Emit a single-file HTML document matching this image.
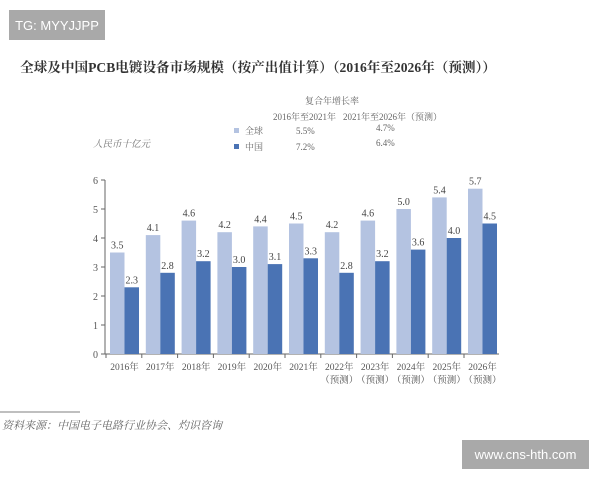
<!DOCTYPE html>
<html><head><meta charset="utf-8">
<style>
body{margin:0;width:600px;height:480px;background:#fff;overflow:hidden;font-family:"Liberation Serif","Noto Serif CJK SC",serif;}
.wm{position:absolute;background:#a9a9a9;color:#fff;font-family:"Liberation Sans",sans-serif;font-size:13px;display:flex;align-items:center;justify-content:center}
</style></head><body>
<div class="wm" style="left:9px;top:10px;width:96px;height:30px">TG: MYYJJPP</div>
<div class="wm" style="left:462px;top:440px;width:127px;height:29px">www.cns-hth.com</div>
<svg width="600" height="480" style="position:absolute;left:0;top:0">
<text x="258" y="72" text-anchor="middle" font-size="13.6" font-weight="bold" fill="#333">全球及中国PCB电镀设备市场规模（按产出值计算）（2016年至2026年（预测））</text>
<g font-size="9" fill="#666">
<text x="332" y="104" text-anchor="middle">复合年增长率</text>
<text x="273" y="120">2016年至2021年</text>
<text x="343" y="120">2021年至2026年（预测）</text>
<rect x="234" y="128" width="5" height="5" fill="#b4c3e1"/><text x="245" y="134">全球</text>
<text x="296" y="134">5.5%</text><text x="376" y="131">4.7%</text>
<rect x="234" y="144" width="5" height="5" fill="#4a73b4"/><text x="245" y="150">中国</text>
<text x="296" y="150">7.2%</text><text x="376" y="146">6.4%</text>
</g>
<text x="93" y="147" font-size="9.5" font-style="italic" fill="#777">人民币十亿元</text>
<g id="plot"></g>
<line x1="0" y1="412" x2="80" y2="412" stroke="#555" stroke-width="0.8"/>
<text x="2" y="429" font-size="11" font-style="italic" fill="#666">资料来源：中国电子电路行业协会、灼识咨询</text>
</svg>
<script>
const years=["2016年","2017年","2018年","2019年","2020年","2021年","2022年","2023年","2024年","2025年","2026年"];
const forecast=[0,0,0,0,0,0,1,1,1,1,1];
const globalVals=[3.5,4.1,4.6,4.2,4.4,4.5,4.2,4.6,5.0,5.4,5.7];
const chinaVals=[2.3,2.8,3.2,3.0,3.1,3.3,2.8,3.2,3.6,4.0,4.5];
const yTicks=[0,1,2,3,4,5,6];
const NS="http://www.w3.org/2000/svg";
const g=document.getElementById('plot');
const y=v=>354-v*29, x0=110, step=35.8, bw=14.5;
function mk(t,a,txt){const e=document.createElementNS(NS,t);for(const k in a)e.setAttribute(k,a[k]);if(txt!=null)e.textContent=txt;g.appendChild(e);return e;}
let ax=mk('line',{x1:105,y1:y(6),x2:105,y2:y(0),stroke:'#666'});


let xa=mk('line',{x1:105,y1:y(0),x2:499,y2:y(0),stroke:'#666'});


yTicks.forEach(t=>{mk('line',{x1:101,y1:y(t),x2:105,y2:y(t),stroke:'#666'});
 let l=mk('text',{x:98,y:y(t)+4,'text-anchor':'end','font-size':10,fill:'#555'},t);
 
 });
years.forEach((yr,i)=>{const gx=x0+i*step;
 let b1=mk('rect',{x:gx,y:y(globalVals[i]),width:bw,height:y(0)-y(globalVals[i]),fill:'#b4c3e1'});
 
 
 let b2=mk('rect',{x:gx+bw,y:y(chinaVals[i]),width:bw,height:y(0)-y(chinaVals[i]),fill:'#4a73b4'});
 
 
 mk('text',{x:gx+bw/2,y:y(globalVals[i])-4,'text-anchor':'middle','font-size':10,fill:'#444'},globalVals[i].toFixed(1));
 mk('text',{x:gx+bw*1.5,y:y(chinaVals[i])-4,'text-anchor':'middle','font-size':10,fill:'#444'},chinaVals[i].toFixed(1));
 mk('line',{x1:gx-4,y1:y(0),x2:gx-4,y2:y(0)+4,stroke:'#666'});
 let l=mk('text',{x:gx+bw,y:370,'text-anchor':'middle','font-size':9.5,fill:'#555'},yr);
 
 
 if(forecast[i])mk('text',{x:gx+bw,y:383,'text-anchor':'middle','font-size':9.5,fill:'#555'},'（预测）');
});
</script>
</body></html>
